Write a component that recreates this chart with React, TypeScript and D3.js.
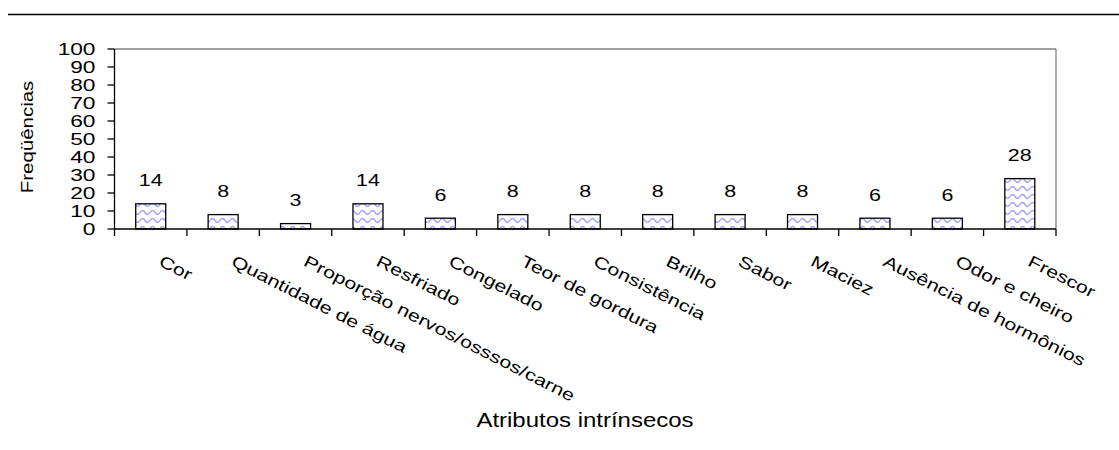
import React from "react";
import * as d3 from "d3";

const categories = [
  "Cor",
  "Quantidade de água",
  "Proporção nervos/osssos/carne",
  "Resfriado",
  "Congelado",
  "Teor de gordura",
  "Consistência",
  "Brilho",
  "Sabor",
  "Maciez",
  "Ausência de hormônios",
  "Odor e cheiro",
  "Frescor",
];
const values = [14, 8, 3, 14, 6, 8, 8, 8, 8, 8, 6, 6, 28];
const yTicks = [0, 10, 20, 30, 40, 50, 60, 70, 80, 90, 100];
const yTitle = "Freqüências";
const xTitle = "Atributos intrínsecos";

const W = 1119;
const H = 450;
const left = 114.5;
const right = 1056;
const top = 49;
const bottom = 229;
const font = "'Liberation Sans', Arial, sans-serif";

export default function App() {
  const x = d3.scaleBand<string>().domain(categories).range([left, right]).paddingInner(0).paddingOuter(0);
  const y = d3.scaleLinear().domain([0, 100]).range([bottom, top]);
  const bw = 30;
  const boundaries = categories.map((c) => x(c) as number).concat([right]);

  return (
    <svg width={W} height={H} style={{ position: "absolute", left: 0, top: 0, background: "#fff" }}>
      <defs>
        <pattern id="wave" patternUnits="userSpaceOnUse" width="10" height="8" x={0} y={0}>
          <rect width="10" height="8" fill="#fff" />
          <path d="M0,4.5 Q2.5,0.5 5,4.5 T10,4.5" fill="none" stroke="#a6a6ff" strokeWidth="1.5" />
        </pattern>
      </defs>
      <line x1={8} x2={1119} y1={14.5} y2={14.5} stroke="#000" strokeWidth={1.3} />
      <line x1={left} x2={right} y1={top} y2={top} stroke="#808080" strokeWidth={1.3} />
      <line x1={right} x2={right} y1={top} y2={bottom} stroke="#808080" strokeWidth={1.3} />
      {categories.map((c, i) => {
        const cx = (x(c) as number) + x.bandwidth() / 2;
        return (
          <g key={c}>
            <rect
              x={cx - bw / 2}
              y={y(values[i])}
              width={bw}
              height={bottom - y(values[i])}
              fill="url(#wave)"
              stroke="#000"
              strokeWidth={1.3}
            />
            <text
              transform={`translate(${cx},${y(values[i]) - 17.5}) scale(1.3,1)`}
              textAnchor="middle"
              fontFamily={font}
              fontSize={16.5}
              fill="#000"
            >
              {values[i]}
            </text>
            <text
              transform={`translate(${cx + 7},${bottom + 36}) rotate(27) scale(1.3,1)`}
              fontFamily={font}
              fontSize={16.5}
              fill="#000"
            >
              {c}
            </text>
          </g>
        );
      })}
      <line x1={left} x2={left} y1={top} y2={bottom} stroke="#000" strokeWidth={1.3} />
      {yTicks.map((t) => (
        <g key={t}>
          <line x1={left - 7} x2={left} y1={y(t)} y2={y(t)} stroke="#000" strokeWidth={1.3} />
          <text
            transform={`translate(${left - 19},${y(t) + 5.8}) scale(1.42,1)`}
            textAnchor="end"
            fontFamily={font}
            fontSize={16}
            fill="#000"
          >
            {t}
          </text>
        </g>
      ))}
      <line x1={left} x2={right} y1={bottom} y2={bottom} stroke="#000" strokeWidth={1.3} />
      {boundaries.map((b, i) => (
        <line key={i} x1={b} x2={b} y1={bottom} y2={bottom + 7} stroke="#000" strokeWidth={1.3} />
      ))}
      <text
        transform={`translate(33,137) rotate(-90) scale(1.28,1)`}
        textAnchor="middle"
        fontFamily={font}
        fontSize={16}
        fill="#000"
      >
        {yTitle}
      </text>
      <text
        transform={`translate(585,427) scale(1.23,1)`}
        textAnchor="middle"
        fontFamily={font}
        fontSize={19.5}
        fill="#000"
      >
        {xTitle}
      </text>
    </svg>
  );
}
